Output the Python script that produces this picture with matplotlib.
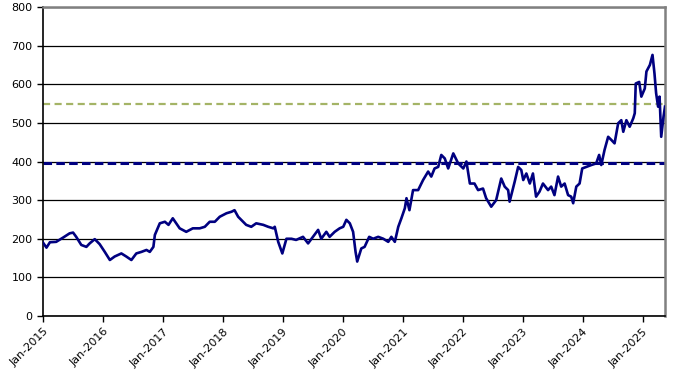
import pandas as pd
import matplotlib
matplotlib.use("Agg")
import matplotlib.pyplot as plt
import matplotlib.dates as mdates

# price series
dates = [
    "2015-01-01", "2015-01-22", "2015-02-12", "2015-03-22", "2015-05-03", "2015-06-12",
    "2015-07-03", "2015-07-22", "2015-08-22", "2015-09-22", "2015-10-12", "2015-11-12",
    "2015-12-12", "2016-01-12", "2016-02-12", "2016-03-12", "2016-04-22", "2016-05-22",
    "2016-06-22", "2016-07-22", "2016-08-22", "2016-09-22", "2016-10-12", "2016-11-03",
    "2016-11-12", "2016-12-12", "2017-01-12", "2017-02-03", "2017-03-01", "2017-03-22",
    "2017-04-12", "2017-05-22", "2017-07-01", "2017-08-12", "2017-09-12", "2017-10-12",
    "2017-11-12", "2017-12-12", "2018-01-22", "2018-02-22", "2018-03-12", "2018-04-03",
    "2018-04-22", "2018-05-22", "2018-06-22", "2018-07-22", "2018-09-03", "2018-10-03",
    "2018-11-03", "2018-11-12", "2018-12-03", "2018-12-28", "2019-01-22", "2019-02-22",
    "2019-03-22", "2019-05-03", "2019-06-03", "2019-07-03", "2019-08-03", "2019-08-22",
    "2019-09-22", "2019-10-12", "2019-11-12", "2019-12-12", "2020-01-03", "2020-01-22",
    "2020-02-12", "2020-03-03", "2020-03-18", "2020-03-28", "2020-04-22", "2020-05-12",
    "2020-06-09", "2020-07-03", "2020-08-03", "2020-09-03", "2020-10-03", "2020-10-22",
    "2020-11-12", "2020-12-03", "2020-12-22", "2021-01-12", "2021-01-22", "2021-02-09",
    "2021-03-03", "2021-04-03", "2021-05-03", "2021-06-03", "2021-06-22", "2021-07-12",
    "2021-08-03", "2021-08-22", "2021-09-12", "2021-10-03", "2021-11-03", "2021-12-03",
    "2022-01-03", "2022-01-22", "2022-02-12", "2022-03-12", "2022-04-03", "2022-05-03",
    "2022-05-22", "2022-06-22", "2022-07-22", "2022-08-22", "2022-09-12", "2022-10-03",
    "2022-10-12", "2022-11-12", "2022-12-03", "2022-12-22", "2023-01-03", "2023-01-22",
    "2023-02-12", "2023-03-03", "2023-03-22", "2023-04-12", "2023-05-03", "2023-06-03",
    "2023-06-22", "2023-07-12", "2023-08-03", "2023-08-22", "2023-09-12", "2023-10-03",
    "2023-10-22", "2023-11-03", "2023-11-22", "2023-12-12", "2023-12-28", "2024-01-22",
    "2024-02-22", "2024-03-22", "2024-04-09", "2024-04-22", "2024-05-12", "2024-06-03",
    "2024-06-22", "2024-07-12", "2024-08-03", "2024-08-22", "2024-09-03", "2024-09-22",
    "2024-10-12", "2024-11-03", "2024-11-12", "2024-11-18", "2024-12-09", "2024-12-22",
    "2025-01-12", "2025-01-22", "2025-02-12", "2025-02-28", "2025-03-12", "2025-03-22",
    "2025-04-03", "2025-04-12", "2025-04-22", "2025-05-06", "2025-05-15",
]
prices = [
    190, 177, 191, 192, 203, 214,
    216, 205, 184, 179, 188, 199,
    186, 166, 145, 154, 162, 154,
    145, 162, 166, 171, 166, 179,
    210, 240, 244, 236, 253, 240,
    227, 218, 227, 227, 231, 244,
    244, 257, 266, 270, 274, 257,
    249, 236, 231, 240, 236, 231,
    227, 231, 192, 162, 200, 200,
    197, 205, 188, 205, 223, 200,
    218, 205, 218, 227, 231, 249,
    240, 218, 166, 141, 175, 179,
    205, 200, 205, 200, 192, 205,
    192, 231, 253, 279, 305, 274,
    326, 326, 352, 374, 361, 382,
    386, 417, 408, 382, 421, 395,
    382, 400, 343, 343, 326, 330,
    305, 283, 300, 356, 335, 326,
    296, 348, 386, 378, 352, 369,
    343, 369, 309, 322, 343, 326,
    335, 313, 361, 335, 343, 313,
    309, 292, 335, 343, 382, 386,
    391, 395, 417, 391, 430, 464,
    456, 447, 499, 507, 477, 507,
    490, 512, 525, 602, 606, 568,
    589, 633, 650, 676, 628, 577,
    542, 568, 464, 516, 542,
]

level_low = 397
level_high = 550

x = pd.to_datetime(dates)

fig = plt.figure(figsize=(6.84, 3.75), dpi=100)
ax = fig.add_axes([0.0629, 0.1573, 0.9093, 0.824])

ax.plot(x, prices, color="#000080", linewidth=1.9, zorder=3)
ax.axhline(level_low, color="#000080", linewidth=2.2, dashes=(2.8, 1.4), zorder=2)
ax.axhline(level_high, color="#A4B466", linewidth=1.6, dashes=(3.2, 2), zorder=2)

ax.set_ylim(0, 800)
ax.set_yticks(range(0, 801, 100))
ax.set_xlim(pd.Timestamp("2015-01-01"), pd.Timestamp("2025-05-15"))
ax.xaxis.set_major_locator(mdates.YearLocator())
ax.xaxis.set_major_formatter(mdates.DateFormatter("Jan-%Y"))

ax.grid(axis="y", color="black", linewidth=0.9)
ax.set_axisbelow(True)

for side in ["left", "bottom"]:
    ax.spines[side].set_color("black")
    ax.spines[side].set_linewidth(1.2)
for side in ["top", "right"]:
    ax.spines[side].set_color("#808080")
    ax.spines[side].set_linewidth(1.8)

ax.tick_params(axis="both", direction="out", length=4, width=1, labelsize=8, colors="black")
for lbl in ax.get_xticklabels():
    lbl.set_rotation(45)
    lbl.set_ha("right")
    lbl.set_rotation_mode("anchor")

fig.savefig("out.png", dpi=100)
